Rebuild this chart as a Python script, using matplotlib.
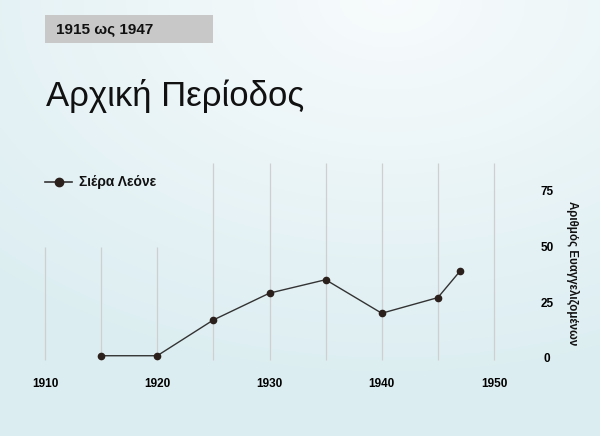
import numpy as np
import matplotlib
matplotlib.use("Agg")
import matplotlib.pyplot as plt
from matplotlib.patches import Rectangle
from matplotlib.lines import Line2D

years = [1915, 1920, 1925, 1930, 1935, 1940, 1945, 1947]
values = [1, 1, 17, 29, 35, 20, 27, 39]
series_name = "Σιέρα Λεόνε"
x_ticks = [1910, 1920, 1930, 1940, 1950]
y_ticks = [0, 25, 50, 75]
grid_years = [1910, 1915, 1920, 1925, 1930, 1935, 1940, 1945, 1950]
title = "Αρχική Περίοδος"
subtitle = "1915 ως 1947"
y_label = "Αριθμός Ευαγγελιζομένων"

plt.rcParams['font.family'] = ['Liberation Sans', 'DejaVu Sans']

W, H = 600, 436
fig = plt.figure(figsize=(W / 100, H / 100), dpi=100)

# background gradient
bg = fig.add_axes([0, 0, 1, 1])
yy, xx = np.mgrid[0:1:200j, 0:1:300j]
d = np.sqrt(((xx - 0.65) * 1.0) ** 2 + ((yy - 0.0) * 1.1) ** 2)
d = np.clip(d / 1.0, 0, 1)
c_light = np.array([0.97, 0.985, 0.99])
c_dark = np.array([0.86, 0.93, 0.945])
img = c_light[None, None, :] * (1 - d[..., None]) + c_dark[None, None, :] * d[..., None]
bg.imshow(img, extent=[0, 1, 0, 1], origin='upper', aspect='auto')
bg.set_xlim(0, 1); bg.set_ylim(0, 1)
bg.axis('off')

px = lambda x: x / W
py = lambda y: 1 - y / H

# header box
fig.patches.append(Rectangle((px(45), py(43)), px(213) - px(45), py(15) - py(43),
                             transform=fig.transFigure, facecolor='#c8c8c8',
                             edgecolor='none', zorder=1))
fig.text(px(56), py(29.5), subtitle, fontsize=11, fontweight='bold',
         ha='left', va='center', color='#111111')
fig.text(px(46), py(96), title, fontsize=25, ha='left', va='center', color='#111111')

# main axes
ymin, ymax = -1, 87.2
ax = fig.add_axes([px(45), py(360.2), px(494) - px(45), py(163) - py(360.2)])
ax.set_xlim(1910, 1950)
ax.set_ylim(ymin, ymax)
ax.patch.set_alpha(0)
for s in ax.spines.values():
    s.set_visible(False)

for gy in grid_years:
    top = 49.6 if gy <= 1920 else ymax
    ax.vlines(gy, ymin, top, color='#cfcfcf', linewidth=0.9, zorder=1, clip_on=False)

ax.plot(years, values, color='#333333', linewidth=1.0, marker='o',
        markersize=4.5, markerfacecolor='#2b201b', markeredgecolor='#2b201b', zorder=3)

ax.set_xticks(x_ticks)
ax.set_xticklabels([str(t) for t in x_ticks], fontsize=8.5, fontweight='bold')
ax.tick_params(axis='x', length=0, pad=13)
ax.yaxis.tick_right()
ax.set_yticks(y_ticks)
ax.set_yticklabels([str(t) for t in y_ticks], fontsize=8.5, fontweight='bold')
ax.tick_params(axis='y', length=0, pad=0)
for lbl in ax.get_yticklabels():
    lbl.set_horizontalalignment('center')
    lbl.set_x(1.0 + (547 - 494) / (494 - 45))

fig.text(px(573), py(273), y_label, rotation=-90, fontsize=8.3, fontweight='bold',
         ha='center', va='center', color='#111111')

# legend
fig.lines.append(Line2D([px(45), px(72)], [py(182), py(182)], transform=fig.transFigure,
                        color='#333333', linewidth=1.2))
fig.lines.append(Line2D([px(59)], [py(182)], transform=fig.transFigure, marker='o',
                        markersize=6, color='#2b201b', linestyle='none'))
fig.text(px(79), py(182), series_name, fontsize=10, fontweight='bold',
         ha='left', va='center', color='#111111')

fig.savefig("out.png", dpi=100)
